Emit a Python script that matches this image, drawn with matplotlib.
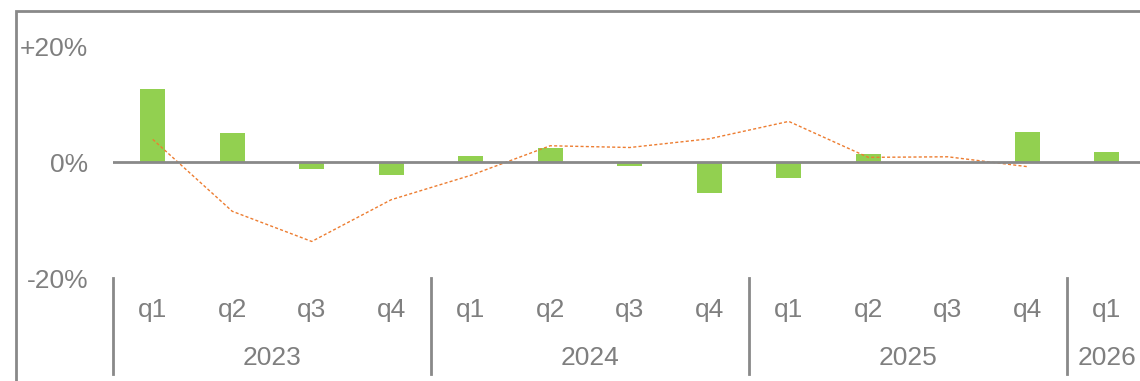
import numpy as np
import matplotlib.pyplot as plt
from matplotlib.patches import Rectangle

plt.rcParams['font.family'] = ['Liberation Sans', 'DejaVu Sans']

years = ['2023', '2024', '2025', '2026']
quarters = ['q1', 'q2', 'q3', 'q4', 'q1', 'q2', 'q3', 'q4',
            'q1', 'q2', 'q3', 'q4', 'q1']
year_of = [0, 0, 0, 0, 1, 1, 1, 1, 2, 2, 2, 2, 3]
growth = [12.6, 5.0, -1.2, -2.2, 1.0, 2.4, -0.7, -5.3,
          -2.8, 1.4, 0.0, 5.2, 1.7]
trend = [3.9, -8.5, -13.7, -6.5, -2.3, 2.8, 2.5, 4.0,
         7.0, 0.8, 0.9, -0.8, np.nan]

grey = '#7f7f7f'
line_grey = '#898989'
green = '#92d050'
orange = '#ed7d31'
fs = 19

W, H = 1140, 381
fig = plt.figure(figsize=(W / 100, H / 100), dpi=100)

# outer frame, open to the right and bottom
fig.patches.append(Rectangle((16 / W, -0.1), 1.2, 1 - 11 / H + 0.1,
                             transform=fig.transFigure, fill=False,
                             edgecolor=line_grey, linewidth=2))

ax = fig.add_axes([113 / W, 103 / H, 1 - 113 / W, 232 / H])
ax.set_xlim(-0.5, 12.418)
ax.set_ylim(-20, 20)
for s in ax.spines.values():
    s.set_visible(False)

x = np.arange(len(quarters))
ax.bar(x, growth, width=0.31, color=green, zorder=2)
ax.plot(x, trend, color=orange, linewidth=1.0,
        linestyle=(0, (2.2, 1.6)), zorder=3)
ax.axhline(0, color=line_grey, linewidth=2, zorder=4)

ax.set_xticks([])
ax.set_yticks([-20, 0, 20])
ax.set_yticklabels(['-20%', '0%', '+20%'])
ax.tick_params(axis='y', length=0, pad=18, labelsize=fs, labelcolor=grey)

xt = ax.get_xaxis_transform()
for i, q in enumerate(quarters):
    ax.text(i, -0.138, q, transform=xt, ha='center', va='center',
            fontsize=fs, color=grey, clip_on=False)

for k, yr in enumerate(years):
    idx = [i for i, y in enumerate(year_of) if y == k]
    ax.text((idx[0] + idx[-1]) / 2, -0.345, yr, transform=xt,
            ha='center', va='center', fontsize=fs, color=grey, clip_on=False)
    ax.plot([idx[0] - 0.5, idx[0] - 0.5], [0, -0.414], transform=xt,
            color=line_grey, linewidth=2, clip_on=False)

fig.savefig('out.png', dpi=100)
